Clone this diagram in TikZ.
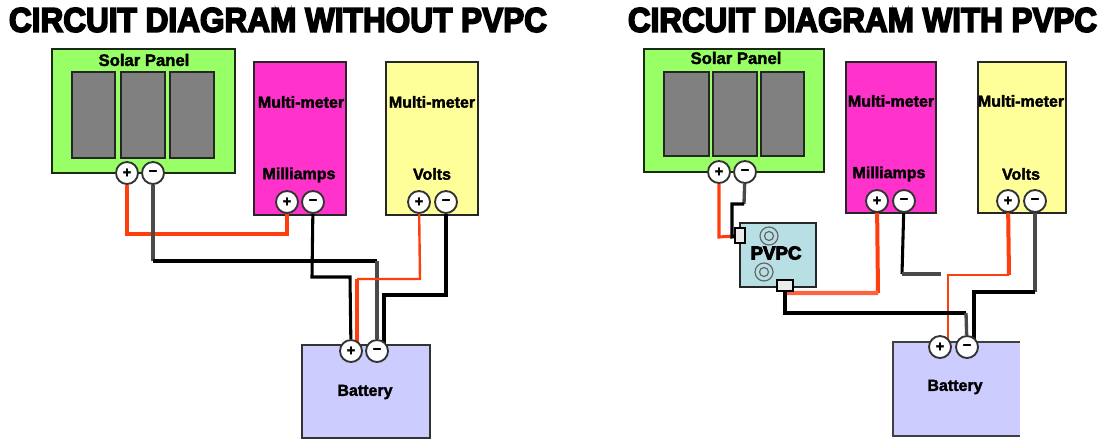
\documentclass[tikz,border=0pt]{standalone}
\usepackage{fontspec}
\setmainfont{Liberation Sans}
\newfontfamily\heavy[FakeBold=5]{Liberation Sans Bold}
\newfontfamily\semi[FakeBold=2]{Liberation Sans Bold}
\usetikzlibrary{calc}
\pgfdeclarelayer{back}\pgfdeclarelayer{mid}
\pgfsetlayers{back,mid,main}
\definecolor{solargreen}{HTML}{99FF66}
\definecolor{metermag}{HTML}{FF33CC}
\definecolor{meteryel}{HTML}{FFFF99}
\definecolor{batlav}{HTML}{CCCCFF}
\definecolor{cellgray}{HTML}{808080}
\definecolor{pvteal}{HTML}{B8E0E4}
\definecolor{wirered}{HTML}{FF3D0D}
\definecolor{wiresoft}{HTML}{FF6040}
\definecolor{wiregray}{HTML}{4A4A4A}
\definecolor{edge}{HTML}{1A2A14}
\tikzset{
  x=0.75pt,y=-0.75pt,
  sz/.style 2 args={minimum width=#1*0.75pt,minimum height=#2*0.75pt,inner sep=0pt,outer sep=0pt},
  panel/.style={draw=edge,line width=2pt,fill=solargreen},
  cell/.style={draw=black!85,line width=1.9pt,fill=cellgray},
  magbox/.style={draw=black!85,line width=1.9pt,fill=metermag},
  yelbox/.style={draw=black!85,line width=1.9pt,fill=meteryel},
  batbox/.style={draw=black!80,line width=1.5pt,fill=batlav},
  pvbox/.style={draw=black!85,line width=1.6pt,fill=pvteal},
  term/.style={circle,draw=black!80,line width=1.4pt,fill=white,minimum size=16.5pt,inner sep=0pt,font=\semi\fontsize{11}{11}\selectfont},
  plug/.style={draw=black,line width=1.3pt,fill=white!92!black,inner sep=0pt,outer sep=0pt},
  ring/.style={circle,draw=black!60,line width=.9pt,inner sep=0pt,outer sep=0pt,minimum size=#1*0.75pt},
  lbl/.style={font=\semi\fontsize{12}{12}\selectfont,inner sep=0pt},
  biglbl/.style={font=\semi\fontsize{12.5}{13}\selectfont,inner sep=0pt},
  heading/.style={inner sep=0pt,anchor=center},
  redw/.style={draw=wirered,line width=2.3pt,line join=miter},
  redthin/.style={draw=wirered,line width=1.8pt},
  redthick/.style={draw=wirered,line width=3pt},
  redsoft/.style={draw=wiresoft,line width=3.2pt},
  blkw/.style={draw=black,line width=2.3pt,line join=miter},
  blkthick/.style={draw=black,line width=3pt,line join=miter},
  gryw/.style={draw=wiregray,line width=2.5pt},
}
\begin{document}
\begin{tikzpicture}
\useasboundingbox (0,0) rectangle (1102,440);

% ---------- headings
\node[heading] (t1) at (278,20) {\resizebox{403.5pt}{18pt}{\heavy CIRCUIT DIAGRAM WITHOUT PVPC}};
\node[heading] (t2) at (862.5,20) {\resizebox{351.8pt}{18pt}{\heavy CIRCUIT DIAGRAM WITH PVPC}};

% ---------- terminals (top layer), left
\node[term] (aP) at (127,173) {+};
\node[term] (aM) at (153,173) {−};
\node[term] (bP) at (287,202) {+};
\node[term] (bM) at (313,202) {−};
\node[term] (cP) at (419,202) {+};
\node[term] (cM) at (446,202) {−};
\node[term] (dP) at (351,351) {+};
\node[term] (dM) at (377,351) {−};
% ---------- terminals, right
\node[term] (eP) at (719,172) {+};
\node[term] (eM) at (745,172) {−};
\node[term] (fP) at (877,201) {+};
\node[term] (fM) at (904,201) {−};
\node[term] (gP) at (1008,201) {+};
\node[term] (gM) at (1035,201) {−};
\node[term] (hP) at (940,347) {+};
\node[term] (hM) at (967,347) {−};

% ---------- labels
\node[biglbl] (l1) at (144,60) {Solar Panel};
\node[lbl] (l2) at (301,102) {Multi-meter};
\node[lbl] (l3) at (299,175) {Milliamps};
\node[lbl] (l4) at (432,102) {Multi-meter};
\node[lbl] (l5) at (432,174) {Volts};
\node[lbl] (l6) at (365,392) {Battery};
\node[biglbl] (r1) at (736,58) {Solar Panel};
\node[lbl] (r2) at (891,101) {Multi-meter};
\node[lbl] (r3) at (889,174) {Milliamps};
\node[lbl] (r4) at (1021,101) {Multi-meter};
\node[lbl] (r5) at (1021,174) {Volts};
\node[lbl] (r6) at (955,387) {Battery};

% ---------- PVPC fittings
\node[lbl,font=\heavy\fontsize{14}{14}\selectfont] (pvl) at (776,253) {PVPC};
\node[plug,sz={10}{15}] (pvIn) at (740,235.5) {};
\node[plug,sz={16}{11}] (pvOut) at (785,285.5) {};
\node[ring=18] (k1) at (769,236) {};
\node[ring=9] (k1i) at (769,236) {};
\node[ring=18] (k2) at (764,272) {};
\node[ring=9] (k2i) at (764,272) {};

\begin{pgfonlayer}{back}
  \node[panel,sz={183}{124}] (sol1) at (143.5,111) {};
  \node[cell,sz={43}{86}] (s1a) at (93.5,115) {};
  \node[cell,sz={44}{86}] (s1b) at (143,115) {};
  \node[cell,sz={44}{86}] (s1c) at (192,115) {};
  \node[magbox,sz={92}{153}] (mA1) at (300,138.5) {};
  \node[yelbox,sz={92}{153}] (V1) at (432,138.5) {};
  \node[batbox,sz={128}{93}] (bat1) at (366,391.5) {};

  \node[panel,sz={180}{123}] (sol2) at (734,110.5) {};
  \node[cell,sz={45}{84}] (s2a) at (686.5,114) {};
  \node[cell,sz={44}{84}] (s2b) at (735,114) {};
  \node[cell,sz={43}{84}] (s2c) at (782.5,114) {};
  \node[magbox,sz={90}{151}] (mA2) at (891,137.5) {};
  \node[yelbox,sz={88}{151}] (V2) at (1022,137.5) {};
  \node[pvbox,sz={76}{64}] (pv) at (778,255) {};
  \node[sz={127}{94},fill=batlav] (bat2) at (956.5,389) {};
  \draw[draw=black!75,line width=1.4pt] (bat2.north east) -- (bat2.north west) -- (bat2.south west) -- (bat2.south east);
\end{pgfonlayer}

% ---------- wire bends
\coordinate (w1a) at (127,234);
\coordinate (w1b) at (287,234);
\coordinate (w2a) at (153,261);
\coordinate (w2b) at (377,261);
\coordinate (w3a) at (312,277);
\coordinate (w3b) at (350,277);
\coordinate (w4a) at (420,279);
\coordinate (w4b) at (357,279);
\coordinate (w4c) at (357,345);
\coordinate (w5a) at (446,295);
\coordinate (w5b) at (384,295);
\coordinate (w5c) at (384,344);
\coordinate (x1a) at (719,237);
\coordinate (x2a) at (744,204);
\coordinate (x2b) at (732,204);
\coordinate (x2c) at (732,237);
\coordinate (x3a) at (878,293);
\coordinate (x3b) at (786,293);
\coordinate (x4a) at (902,274);
\coordinate (x4b) at (941,274);
\coordinate (x5a) at (1009,275);
\coordinate (x5b) at (948,275);
\coordinate (x5c) at (948,342);
\coordinate (x6a) at (1035,292);
\coordinate (x6b) at (974,292);
\coordinate (x6c) at (974,340);
\coordinate (x7a) at (785,313);
\coordinate (x7b) at (966,313);

\begin{pgfonlayer}{mid}
  % left circuit
  \draw[redw] (aP) -- (w1a) -- (w1b) -- (bP);
  \draw[gryw] (aM) -- (w2a);
  \draw[blkw] (w2a) -- (w2b);
  \draw[gryw] (w2b) -- (dM);
  \draw[blkw] (bM) -- (w3a) -- (w3b) -- (dP);
  \draw[redthin] (cP) -- (w4a) -- (w4b);
  \draw[redthick] (w4b) -- (w4c);
  \draw[blkthick] (cM) -- (w5a) -- (w5b) -- (w5c);
  % right circuit
  \draw[redw] (eP) -- (x1a) -- (pvIn);
  \draw[gryw] (eM) -- (x2a);
  \draw[blkw] (x2a) -- (x2b) -- (x2c) -- (pvIn);
  \draw[redthick] (fP) -- (x3a);
  \draw[redsoft] (x3a) -- (x3b) -- (pvOut);
  \draw[blkw] (fM) -- (x4a);
  \draw[gryw,line width=2.8pt] (x4a) -- (x4b);
  \draw[redthick] (gP) -- (x5a);
  \draw[redthin] (x5a) -- (x5b) -- (x5c);
  \draw[gryw] (gM) -- (x6a);
  \draw[blkw] (x6a) -- (x6b) -- (x6c);
  \draw[blkw] (pvOut) -- (x7a) -- (x7b);
  \draw[gryw] (x7b) -- (hM);
\end{pgfonlayer}
\end{tikzpicture}
\end{document}
